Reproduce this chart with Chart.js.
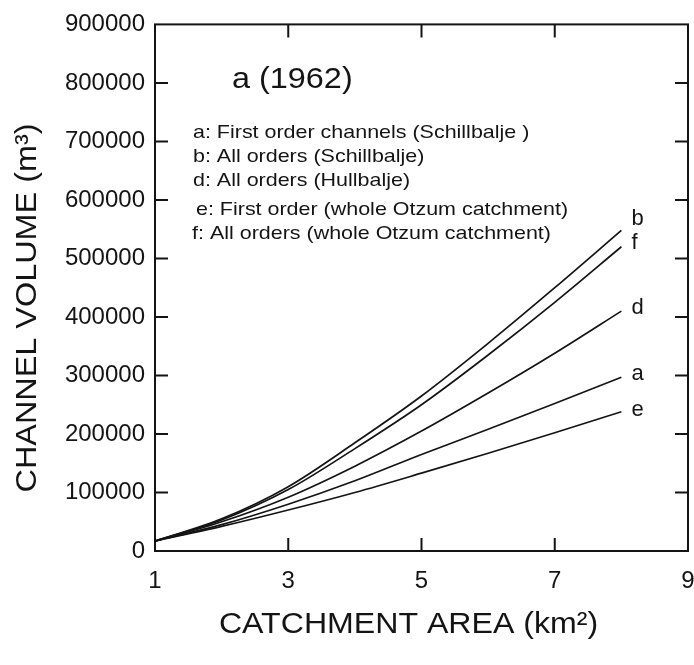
<!DOCTYPE html>
<html>
<head>
<meta charset="utf-8">
<script src="https://cdn.jsdelivr.net/npm/chart.js@4/dist/chart.umd.min.js"></script>
<style>
  html, body { margin: 0; padding: 0; background: #ffffff; }
  #wrap { width: 694px; height: 665px; }
</style>
</head>
<body>
<div id="wrap"><canvas id="c" width="694" height="665"></canvas></div>
<script>
// Catchment area (km²) at which each curve is sampled
const areas = [1, 2, 3, 4, 5, 6, 7, 8];

// Channel volume (m³) per curve
const volA = [17000, 45000, 80000, 120000, 165000, 208000, 252000, 297000];
const volB = [17000, 55000, 110000, 185000, 265000, 355000, 450000, 548000];
const volD = [17000, 50000, 92000, 145000, 205000, 270000, 338000, 410000];
const volE = [17000, 42000, 70000, 100000, 133000, 167000, 202000, 238000];
const volF = [17000, 53000, 105000, 175000, 250000, 335000, 425000, 520000];

const curveKeys = ['b', 'f', 'd', 'a', 'e'];
const curveValues = [volB, volF, volD, volA, volE];

const xTickValues = [1, 3, 5, 7, 9];
const yTickValues = [0, 100000, 200000, 300000, 400000, 500000, 600000, 700000, 800000, 900000];

const panelTitle = 'a (1962)';
const legendLines = [
  'a: First order channels (Schillbalje )',
  'b: All orders (Schillbalje)',
  'd: All orders (Hullbalje)',
  'e: First order (whole Otzum catchment)',
  'f: All orders (whole Otzum catchment)'
];
const xTitle = 'CATCHMENT AREA (km²)';
const yTitle = 'CHANNEL VOLUME (m³)';

const FONT = '"Liberation Sans", Arial, sans-serif';
const INK = '#141414';

const datasets = curveKeys.map((k, i) => ({
  label: k,
  data: areas.map((x, j) => ({ x: x, y: curveValues[i][j] })),
  borderColor: INK,
  borderWidth: 1.7,
  pointRadius: 0,
  fill: false,
  cubicInterpolationMode: 'monotone'
}));

// Per-label vertical nudge relative to the curve end
const endLabelNudge = { b: -11, f: -4, d: -3, a: -3, e: -2 };

// Draws text squeezed or widened along its baseline
function wideText(ctx, text, x, y, sx) {
  ctx.save();
  ctx.translate(x, y);
  ctx.scale(sx, 1);
  ctx.fillText(text, 0, 0);
  ctx.restore();
}

const decorations = {
  id: 'decorations',
  afterDraw(chart) {
    const { ctx, chartArea: ca, scales } = chart;
    const xs = scales.x, ys = scales.y;
    ctx.save();

    // frame
    ctx.strokeStyle = INK;
    ctx.lineWidth = 2;
    ctx.strokeRect(ca.left, ca.top, ca.right - ca.left, ca.bottom - ca.top);

    // inward tick marks on all four sides
    const tl = 13;
    ctx.lineWidth = 2;
    ctx.beginPath();
    yTickValues.slice(1, -1).forEach(v => {
      const py = ys.getPixelForValue(v);
      ctx.moveTo(ca.left, py); ctx.lineTo(ca.left + tl, py);
      ctx.moveTo(ca.right, py); ctx.lineTo(ca.right - tl, py);
    });
    xTickValues.slice(1, -1).forEach(v => {
      const px = xs.getPixelForValue(v);
      ctx.moveTo(px, ca.bottom); ctx.lineTo(px, ca.bottom - tl);
      ctx.moveTo(px, ca.top); ctx.lineTo(px, ca.top + tl);
    });
    ctx.stroke();

    ctx.fillStyle = INK;
    ctx.textBaseline = 'middle';

    // panel title
    ctx.textAlign = 'left';
    ctx.font = '30px ' + FONT;
    wideText(ctx, panelTitle, 232, 80, 1.08);

    // key to the curves
    ctx.font = '18.5px ' + FONT;
    const legendY = [133, 157, 181, 210, 234];
    const legendX = [193, 193, 193, 196, 192];
    legendLines.forEach((t, i) => wideText(ctx, t, legendX[i], legendY[i], 1.16));

    // curve letters at the line ends
    ctx.font = '22px ' + FONT;
    curveKeys.forEach((k, i) => {
      const vals = curveValues[i];
      const px = xs.getPixelForValue(areas[areas.length - 1]) + 10;
      const py = ys.getPixelForValue(vals[vals.length - 1]) + endLabelNudge[k];
      ctx.fillText(k, px, py);
    });

    // axis titles
    ctx.font = '30px ' + FONT;
    ctx.textAlign = 'center';
    wideText(ctx, xTitle, (ca.left + ca.right) / 2 - 13, 625, 1.07);
    ctx.save();
    ctx.translate(28, 308);
    ctx.rotate(-Math.PI / 2);
    wideText(ctx, yTitle, 0, 0, 1.08);
    ctx.restore();

    ctx.restore();
  }
};

new Chart(document.getElementById('c'), {
  type: 'line',
  data: { datasets },
  options: {
    responsive: false,
    devicePixelRatio: 1,
    animation: false,
    layout: { padding: { top: 21, right: 6, left: 0, bottom: 0 } },
    plugins: { legend: { display: false }, tooltip: { enabled: false } },
    scales: {
      x: {
        type: 'linear',
        min: 1, max: 9,
        afterBuildTicks(scale) { scale.ticks = xTickValues.map(v => ({ value: v })); },
        afterFit(scale) {
          scale.height = 114;
          scale.paddingLeft = 0;
          scale.paddingRight = 0;
        },
        grid: { display: false, drawTicks: false },
        border: { display: false },
        ticks: {
          padding: 16,
          color: INK,
          font: { family: FONT, size: 24 },
          maxRotation: 0,
          autoSkip: false
        }
      },
      y: {
        type: 'linear',
        min: 0, max: 900000,
        afterBuildTicks(scale) { scale.ticks = yTickValues.map(v => ({ value: v })); },
        afterFit(scale) { scale.width = 155; },
        grid: { display: false, drawTicks: false },
        border: { display: false },
        ticks: {
          padding: 10,
          color: INK,
          font: { family: FONT, size: 24 },
          autoSkip: false,
          callback: v => String(v)
        }
      }
    }
  },
  plugins: [decorations]
});
</script>
</body>
</html>
